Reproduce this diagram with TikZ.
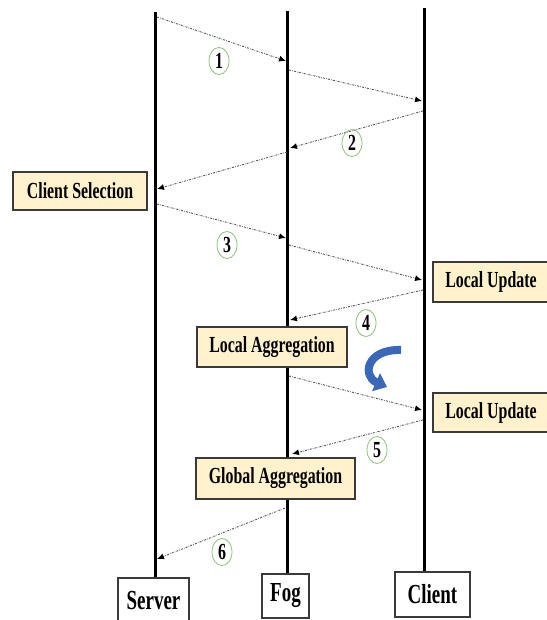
\documentclass[tikz,border=0pt]{standalone}
\usepackage{fontspec}
\setmainfont{Liberation Serif}
\newfontfamily\lblfont{Liberation Serif}[FakeStretch=0.69]
\usetikzlibrary{arrows.meta,shapes.geometric}

\definecolor{boxfill}{HTML}{FFF2CC}
\definecolor{boxedge}{HTML}{3A3A3A}
\definecolor{msgline}{HTML}{555555}
\definecolor{stepgreen}{HTML}{8CC07A}
\definecolor{loopblue}{HTML}{3A67B8}

\tikzset{
  lifeline/.style={line width=3pt, black},
  phasebox/.style={draw=boxedge, fill=boxfill, line width=1.1pt, inner sep=0pt,
    font=\lblfont\bfseries\fontsize{23}{25}\selectfont},
  actorbox/.style={draw=boxedge, fill=white, line width=1.1pt, inner sep=0pt,
    font=\lblfont\bfseries\fontsize{27.5}{29}\selectfont},
  msg/.style={draw=msgline, line width=0.9pt,
    dash pattern=on 2pt off 1.2pt on 0.6pt off 1.2pt,
    -{Latex[length=7pt,width=6pt,black]}},
  stepmark/.style={ellipse, draw=stepgreen, line width=0.8pt, minimum width=20pt,
    minimum height=27pt, inner sep=0pt,
    font=\lblfont\bfseries\fontsize{23}{25}\selectfont},
}

\begin{document}
\begin{tikzpicture}[x=1pt,y=-1pt]
\useasboundingbox (0,0) rectangle (546,620);

% actors at the foot of each lifeline
\node[actorbox, minimum width=71pt, minimum height=46pt] (server) at (153.5,601) {Server};
\node[actorbox, minimum width=47pt, minimum height=44pt] (fog) at (285.5,596) {Fog};
\node[actorbox, minimum width=75pt, minimum height=45pt] (client) at (432.5,594.5) {Client};

% lifelines
\coordinate (stop) at (155,12);
\coordinate (ftop) at (287,11);
\coordinate (ctop) at (424,8);
\draw[lifeline] (stop) -- (stop |- server.north);
\draw[lifeline] (ftop) -- (ftop |- fog.north);
\draw[lifeline] (ctop) -- (ctop |- client.north);

% phase boxes
\node[phasebox, minimum width=134pt, minimum height=38pt] (select) at (80,191) {Client Selection};
\node[phasebox, minimum width=116pt, minimum height=40pt] (upd1) at (491,282) {Local Update};
\node[phasebox, minimum width=150pt, minimum height=40pt] (lagg) at (272,347) {Local Aggregation};
\node[phasebox, minimum width=116pt, minimum height=39pt] (upd2) at (491,412.5) {Local Update};
\node[phasebox, minimum width=159pt, minimum height=41pt] (gagg) at (275.5,478.5) {Global Aggregation};

% message end points on the lifelines
\coordinate (a1) at (157,17);  \coordinate (a2) at (286,61);
\coordinate (a3) at (289,70);  \coordinate (a4) at (422,101);
\coordinate (b1) at (423,111); \coordinate (b2) at (290,148);
\coordinate (b3) at (287,152); \coordinate (b4) at (157,189);
\coordinate (c1) at (157,204); \coordinate (c2) at (286,238);
\coordinate (c3) at (289,245); \coordinate (c4) at (422,280);
\coordinate (d1) at (423,290); \coordinate (d2) at (290,320);
\coordinate (e1) at (289,376); \coordinate (e2) at (422,410);
\coordinate (f1) at (423,420); \coordinate (f2) at (292,454);
\coordinate (g1) at (285,508); \coordinate (g2) at (157,559);

\draw[msg] (a1) -- (a2);
\draw[msg] (a3) -- (a4);
\draw[msg] (b1) -- (b2);
\draw[msg] (b3) -- (b4);
\draw[msg] (c1) -- (c2);
\draw[msg] (c3) -- (c4);
\draw[msg] (d1) -- (d2);
\draw[msg] (e1) -- (e2);
\draw[msg] (f1) -- (f2);
\draw[msg] (g1) -- (g2);

% step numbers
\node[stepmark] (n1) at (219,61) {1};
\node[stepmark] (n2) at (352,143) {2};
\node[stepmark] (n3) at (227,245) {3};
\node[stepmark] (n4) at (366,323) {4};
\node[stepmark] (n5) at (377,450) {5};
\node[stepmark] (n6) at (222,552) {6};

% repeat loop arrow
\draw[loopblue, line width=8pt, -{Triangle[length=12pt,width=19pt]}]
  (401,350) .. controls (366,349) and (362,376) .. (387,387);
\end{tikzpicture}
\end{document}
